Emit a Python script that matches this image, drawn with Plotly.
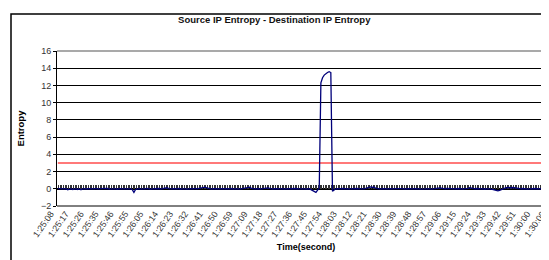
import plotly.graph_objects as go

# ---- data ----
tick_labels = ["1:25:08", "1:25:17", "1:25:26", "1:25:35", "1:25:46", "1:25:55", "1:26:05",
               "1:26:14", "1:26:23", "1:26:32", "1:26:41", "1:26:50", "1:26:59", "1:27:09",
               "1:27:18", "1:27:27", "1:27:36", "1:27:45", "1:27:54", "1:28:03", "1:28:12",
               "1:28:21", "1:28:30", "1:28:39", "1:28:48", "1:28:57", "1:29:06", "1:29:15",
               "1:29:24", "1:29:33", "1:29:42", "1:29:51", "1:30:00", "1:30:09"]

entropy_diff = [
    0.02, 0.0, -0.03, 0.01, -0.02, 0.0, -0.12, -0.05, 0.0, -0.1, -0.03, 0.02, -0.08, -0.02, -0.12, 0.0, 0.01, -0.03, 0.02, 0.0,
    -0.02, 0.03, 0.0, 0.05, 0.0, -0.03, 0.01, 0.02, -0.02, 0.0, 0.03, -0.04, 0.0, 0.02, -0.01, 0.0, -0.05, 0.01, 0.03, 0.0,
    -0.02, 0.0, 0.03, -0.03, 0.0, -0.1, -0.42, -0.08, 0.0, 0.02, -0.03, 0.01, 0.0, -0.02, 0.04, 0.0, -0.06, 0.0, 0.02, -0.02,
    0.0, 0.03, -0.04, 0.0, 0.01, 0.08, 0.12, 0.02, -0.03, 0.0, 0.02, -0.02, 0.0, 0.03, -0.05, 0.0, 0.02, 0.0, -0.03, 0.01,
    0.0, 0.02, -0.02, 0.04, 0.0, 0.03, 0.08, 0.12, 0.18, 0.2, 0.1, 0.03, 0.0, -0.03, 0.02, 0.0, -0.02, 0.03, 0.0, 0.01,
    -0.03, 0.0, 0.02, -0.02, 0.0, 0.03, -0.04, 0.0, 0.02, 0.0, -0.03, 0.01, 0.05, 0.12, 0.15, 0.2, 0.18, 0.05, 0.0, -0.02,
    0.0, 0.03, -0.03, 0.0, 0.02, 0.05, 0.08, 0.1, 0.04, 0.0, -0.03, 0.02, 0.0, -0.02, 0.03, 0.0, 0.02, -0.04, 0.0, 0.01,
    0.0, -0.03, 0.02, 0.0, 0.03, -0.02, 0.0, 0.02, -0.03, 0.0, -0.05, 0.02, 0.0, -0.1, -0.2, -0.3, -0.42, -0.15, 0.05, 12.3,
    12.9, 13.2, 13.4, 13.5, 13.6, 13.5, -0.3, -0.1, 0.0, 0.02, -0.03, 0.0, 0.03, -0.02, 0.0, 0.02, -0.04, 0.0, 0.02, 0.0,
    -0.02, 0.03, 0.0, -0.02, 0.02, 0.0, 0.05, 0.1, 0.15, 0.22, 0.15, 0.2, 0.08, 0.02, 0.0, -0.03, 0.02, 0.0, -0.02, 0.03,
    0.0, 0.02, -0.03, 0.0, 0.01, 0.03, -0.02, 0.0, 0.02, 0.0, -0.04, 0.02, 0.0, 0.03, -0.02, 0.0, 0.02, 0.05, 0.0, -0.03,
    0.0, 0.02, -0.02, 0.0, 0.03, 0.0, -0.03, 0.02, 0.0, 0.04, 0.08, 0.1, 0.05, 0.0, -0.02, 0.03, 0.0, -0.03, 0.02, 0.0,
    0.02, -0.02, 0.0, 0.03, 0.0, -0.04, 0.02, 0.0, 0.05, 0.12, 0.08, 0.0, -0.02, 0.03, 0.0, -0.03, 0.0, 0.02, -0.05, 0.0,
    0.02, 0.0, -0.03, -0.08, -0.15, -0.22, -0.25, -0.18, -0.08, 0.0, 0.05, 0.12, 0.15, 0.1, 0.12, 0.15, 0.1, 0.05, 0.02, 0.0,
    -0.02, 0.03, 0.0, 0.02, -0.03, 0.0, 0.02, 0.0, -0.02, 0.03, 0.0, 0.01, -0.03, 0.0, 0.02, 0.0, -0.02, 0.03, 0.0, 0.01,
    0.0,
]
threshold = 3
label_every = 9

# ---- category labels (one per sample, seconds between the printed labels) ----
def to_sec(s):
    h, m, x = s.split(":")
    return int(h) * 3600 + int(m) * 60 + int(x)

def to_str(t):
    return f"{t // 3600}:{(t % 3600) // 60:02d}:{t % 60:02d}"

secs = [to_sec(s) for s in tick_labels]
times = []
for a, b in zip(secs[:-1], secs[1:]):
    for i in range(label_every):
        times.append(to_str(a + round(i * (b - a) / label_every)))
extra = len(entropy_diff) - len(times)
for i in range(extra):
    times.append(to_str(secs[-1] + i))

n = len(times)

fig = go.Figure()
fig.add_trace(go.Scatter(x=times, y=[threshold] * n, mode="lines",
                         line=dict(color="#ff4d4d", width=1.6), hoverinfo="skip", showlegend=False))
fig.add_trace(go.Scatter(x=times, y=entropy_diff, mode="lines",
                         line=dict(color="#00007a", width=1.3), showlegend=False))
# invisible helper trace so that the crossing axis (x2) is drawn
fig.add_trace(go.Scatter(x=[0], y=[0], xaxis="x2", mode="markers",
                         marker=dict(opacity=0), hoverinfo="skip", showlegend=False))

ymin, ymax = -2, 16
tick_font = dict(family="Liberation Sans, Arial", size=9, color="#333333")

fig.update_layout(
    width=549, height=260,
    margin=dict(l=49, r=2, t=43, b=62),
    paper_bgcolor="white", plot_bgcolor="white",
    title=dict(text="<b>Source IP Entropy - Destination IP Entropy</b>",
               font=dict(family="Liberation Sans, Arial", size=9.5, color="#111111"),
               x=0.485, xref="container", xanchor="center",
               y=1 - 12 / 260, yref="container", yanchor="middle"),
    xaxis=dict(type="category", range=[-0.5, n - 0.5],
               tickmode="array", tickvals=times[::label_every], ticktext=tick_labels,
               tickangle=-55, ticklabelshift=-7,
               tickfont=dict(family="Liberation Sans, Arial", size=8.8, color="#333333"),
               ticks="", showgrid=False, showline=False, zeroline=False,
               title=dict(text="<b>Time(second)</b>", standoff=5,
                          font=dict(family="Liberation Sans, Arial", size=9, color="#000"))),
    xaxis2=dict(type="linear", overlaying="x", anchor="free",
                position=(0 - ymin) / (ymax - ymin), side="bottom",
                range=[-0.5, n - 0.5], tickmode="linear", tick0=-0.5, dtick=1,
                ticks="inside", ticklen=4, tickwidth=1, tickcolor="#333333",
                showticklabels=False, showgrid=False, zeroline=False,
                showline=True, linecolor="#000000", linewidth=1, layer="below traces"),
    yaxis=dict(range=[ymin, ymax], dtick=2, tick0=0, tickfont=tick_font,
               ticks="outside", ticklen=3, tickcolor="#000",
               showgrid=True, gridcolor="#000000", gridwidth=1, zeroline=False,
               showline=True, linecolor="#000000", linewidth=1,
               title=dict(text="<b>Entropy</b>", standoff=14,
                          font=dict(family="Liberation Sans, Arial", size=9.5, color="#000"))),
    shapes=[
        # plot-area frame (top and right in grey)
        dict(type="line", xref="paper", yref="paper", x0=0, x1=1, y0=1, y1=1,
             line=dict(color="#8c8c8c", width=1.5)),
        dict(type="line", xref="paper", yref="paper", x0=1, x1=1, y0=0, y1=1,
             line=dict(color="#8c8c8c", width=1.5)),
        dict(type="line", xref="paper", yref="paper", x0=0, x1=1, y0=0, y1=0,
             line=dict(color="#000000", width=1)),
        # chart outer border
        dict(type="rect", xref="paper", yref="paper",
             x0=(3 - 49) / 498, x1=1.02, y0=(198 - 262) / 155, y1=(198 - 6) / 155,
             line=dict(color="#000000", width=1.5)),
    ],
)

fig.write_html("out.html")
